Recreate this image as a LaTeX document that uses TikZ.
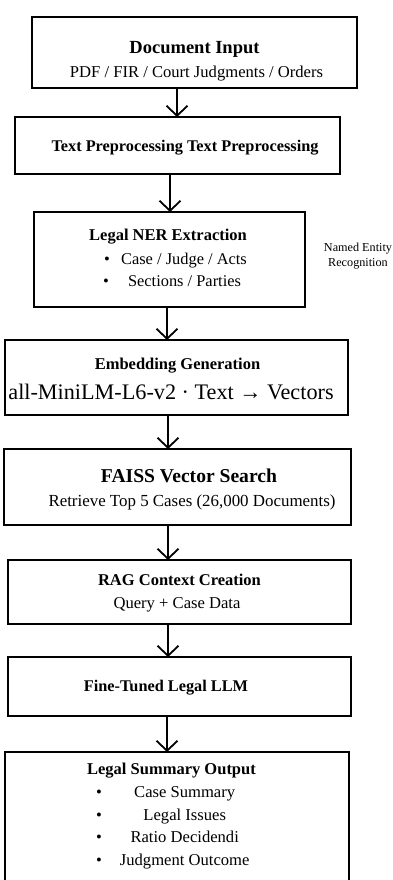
\documentclass[tikz,border=0pt]{standalone}
\usepackage{fontspec}
\setmainfont{Liberation Serif}
\usetikzlibrary{arrows.meta}
\begin{document}
\begin{tikzpicture}[x=1pt,y=-1pt,
  box/.style={draw=black, line width=2.6pt, inner sep=0pt, outer sep=0pt},
  arr/.style={line width=1.8pt, -{Straight Barb[length=10pt,width=21pt,line width=1.8pt]}},
  hd/.style={anchor=base, inner sep=0pt, font=\fontsize{16.5}{18}\selectfont\bfseries},
  tx/.style={anchor=base, inner sep=0pt, font=\fontsize{16.6}{18}\selectfont},
  bul/.style={anchor=base, inner sep=0pt, font=\fontsize{16.6}{18}\selectfont}]
\useasboundingbox[fill=white] (0,0) rectangle (393,880);

% boxes
\node[box, minimum width=325pt, minimum height=71pt] (b1) at (194.5,52.5) {};
\node[box, minimum width=325pt, minimum height=57pt] (b2) at (177.5,145.5) {};
\node[box, minimum width=271pt, minimum height=95pt] (b3) at (169.5,259.5) {};
\node[box, minimum width=343pt, minimum height=75pt] (b4) at (176.5,377.5) {};
\node[box, minimum width=347pt, minimum height=76pt] (b5) at (177.5,487) {};
\node[box, minimum width=343pt, minimum height=64pt] (b6) at (179.5,592) {};
\node[box, minimum width=343pt, minimum height=59pt] (b7) at (179.5,686.5) {};
\node[box, minimum width=344pt, minimum height=143pt] (b8) at (177,823.5) {};

% texts
\node[hd, font=\fontsize{18.5}{20}\selectfont\bfseries] (t1a) at (194.5,53.3) {Document Input};
\node[tx] (t1b) at (196.5,77.3) {PDF / FIR / Court Judgments / Orders};

\node[hd, font=\fontsize{16.3}{18}\selectfont\bfseries] (t2) at (185,151.5) {Text Preprocessing Text Preprocessing};

\node[hd] (t3a) at (168,240.7) {Legal NER Extraction};
\node[bul] (t3p1) at (107,264) {•};
\node[tx, font=\fontsize{16.4}{18}\selectfont] (t3b) at (184,264) {Case / Judge / Acts};
\node[bul] (t3p2) at (106,286) {•};
\node[tx, font=\fontsize{16.4}{18}\selectfont] (t3c) at (184.5,286) {Sections / Parties};

\node[hd] (t4a) at (177.5,369.3) {Embedding Generation};
\node[tx, font=\fontsize{22.2}{24}\selectfont] (t4b) at (171,399) {all-MiniLM-L6-v2 · Text → Vectors};

\node[hd, font=\fontsize{19.6}{22}\selectfont\bfseries] (t5a) at (189,482.3) {FAISS Vector Search};
\node[tx, font=\fontsize{16.9}{18}\selectfont] (t5b) at (192,506.7) {Retrieve Top 5 Cases (26,000 Documents)};

\node[hd] (t6a) at (179.5,585.7) {RAG Context Creation};
\node[tx] (t6b) at (177,608) {Query + Case Data};

\node[hd, font=\fontsize{16.3}{18}\selectfont\bfseries] (t7) at (166,691.7) {Fine-Tuned Legal LLM};

\node[hd] (t8a) at (171.5,774) {Legal Summary Output};
\node[bul] (t8p1) at (99,797.3) {•};
\node[tx] (t8b) at (184.7,797.3) {Case Summary};
\node[bul] (t8p2) at (99,820) {•};
\node[tx] (t8c) at (184.7,820) {Legal Issues};
\node[bul] (t8p3) at (99,842.7) {•};
\node[tx] (t8d) at (184.7,842.7) {Ratio Decidendi};
\node[bul] (t8p4) at (99,865.7) {•};
\node[tx] (t8e) at (184.7,865.7) {Judgment Outcome};

% side label
\node[inner sep=0pt, align=center, anchor=north, font=\fontsize{12.2}{14.5}\selectfont] (ner) at (358,243) {Named Entity\\Recognition};

% arrows
\coordinate (ax1) at (177,0);
\coordinate (ax2) at (170,0);
\coordinate (ax3) at (167,0);
\coordinate (ax4) at (168,0);
\coordinate (ax7) at (167,0);
\draw[arr] (b1.south -| ax1) -- (b2.north -| ax1);
\draw[arr] (b2.south -| ax2) -- (b3.north -| ax2);
\draw[arr] (b3.south -| ax3) -- (b4.north -| ax3);
\draw[arr] (b4.south -| ax4) -- (b5.north -| ax4);
\draw[arr] (b5.south -| ax4) -- (b6.north -| ax4);
\draw[arr] (b6.south -| ax4) -- (b7.north -| ax4);
\draw[arr] (b7.south -| ax7) -- (b8.north -| ax7);
\end{tikzpicture}
\end{document}
